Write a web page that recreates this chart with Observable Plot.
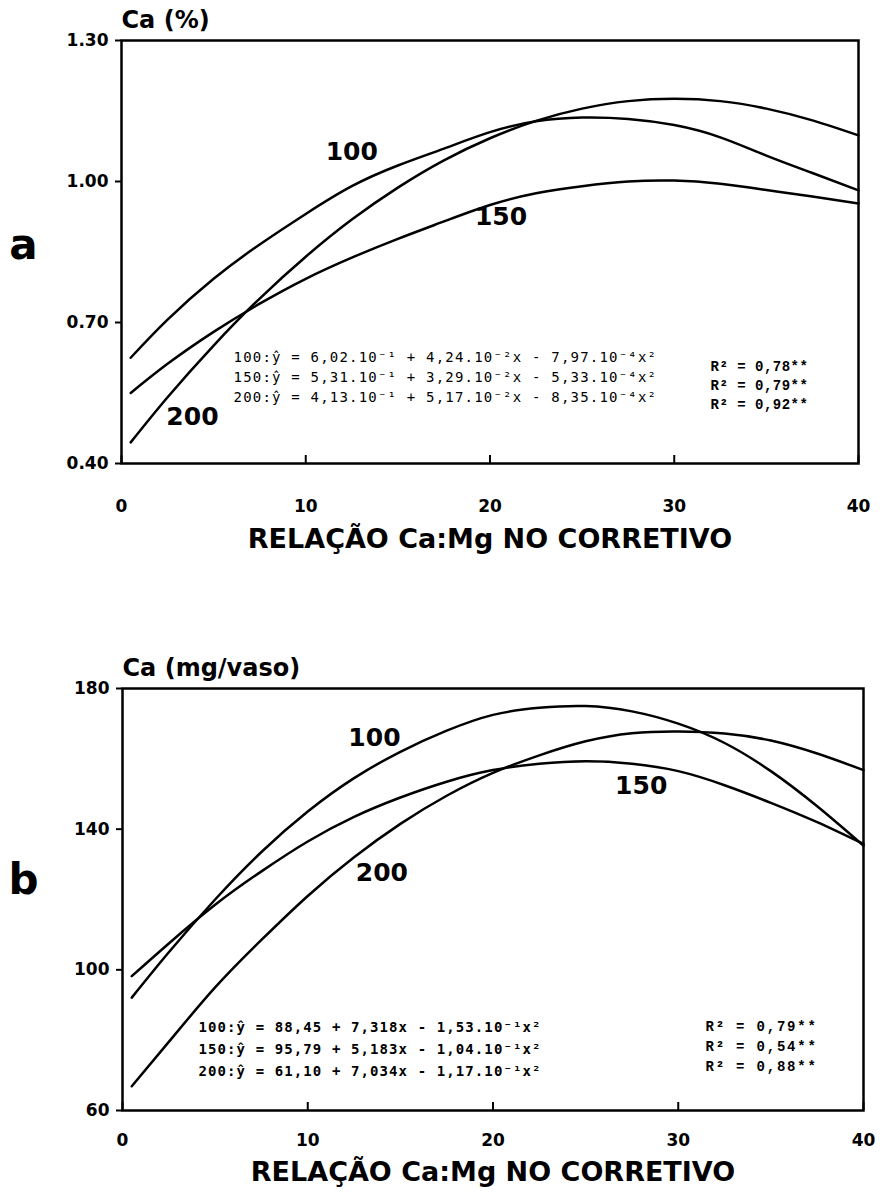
<!DOCTYPE html>
<html><head><meta charset="utf-8">
<script src="https://cdn.jsdelivr.net/npm/d3@7"></script>
<script src="https://cdn.jsdelivr.net/npm/@observablehq/plot@0.6"></script>
<style>
body{margin:0;background:#fff;}
#chart svg{display:block;}
</style></head><body><div id="chart"></div>
<script>
// ---- data ----
const xs = [0.5, 2.5, 5, 7.5, 10, 12.5, 15, 17.5, 20, 22.5, 25, 27.5, 30, 32.5, 35, 37.5, 40];
const seriesNames = ["100", "150", "200"];
const xTicks = [0, 10, 20, 30, 40];
const xTitle = "RELAÇÃO Ca:Mg NO CORRETIVO";

// panel a: Ca (%)
const a100 = [0.625, 0.706, 0.793, 0.866, 0.931, 0.990, 1.034, 1.070, 1.105, 1.128, 1.136, 1.133, 1.120, 1.094, 1.055, 1.018, 0.981];
const a150 = [0.550, 0.612, 0.680, 0.740, 0.793, 0.838, 0.878, 0.915, 0.950, 0.975, 0.990, 1.000, 1.002, 0.995, 0.982, 0.968, 0.953];
const a200 = [0.445, 0.541, 0.651, 0.751, 0.840, 0.919, 0.987, 1.045, 1.092, 1.129, 1.155, 1.171, 1.176, 1.171, 1.155, 1.130, 1.098];
const aYTicks = [0.40, 0.70, 1.00, 1.30];
const aTitle = "Ca (%)";
const aEq = [
  "100:ŷ = 6,02.10⁻¹ + 4,24.10⁻²x - 7,97.10⁻⁴x²",
  "150:ŷ = 5,31.10⁻¹ + 3,29.10⁻²x - 5,33.10⁻⁴x²",
  "200:ŷ = 4,13.10⁻¹ + 5,17.10⁻²x - 8,35.10⁻⁴x²"
];
const aR2 = ["R² = 0,78**", "R² = 0,79**", "R² = 0,92**"];

// panel b: Ca (mg/vaso)
const b100 = [92.1, 105.0, 120.0, 133.5, 145.0, 154.5, 162.0, 168.0, 172.5, 174.5, 175.0, 173.5, 170.0, 164.5, 156.5, 146.5, 135.3];
const b150 = [98.2, 107.5, 118.5, 128.0, 136.5, 143.5, 149.0, 153.5, 156.8, 158.6, 159.3, 158.6, 156.5, 152.5, 147.5, 142.0, 135.8];
const b200 = [66.9, 79.5, 95.0, 108.5, 121.0, 132.0, 141.5, 149.5, 156.0, 161.0, 165.0, 167.3, 167.8, 167.2, 165.2, 161.5, 156.8];
const bYTicks = [60, 100, 140, 180];
const bTitle = "Ca (mg/vaso)";
const bEq = [
  "100:ŷ = 88,45 + 7,318x - 1,53.10⁻¹x²",
  "150:ŷ = 95,79 + 5,183x - 1,04.10⁻¹x²",
  "200:ŷ = 61,10 + 7,034x - 1,17.10⁻¹x²"
];
const bR2 = ["R² = 0,79**", "R² = 0,54**", "R² = 0,88**"];

function panel(o) {
  const rows = [];
  o.series.forEach((vals, k) => vals.forEach((v, i) => rows.push({x: xs[i], y: v, s: seriesNames[k]})));
  const bold = {fontWeight: "bold", fill: "#000"};
  const svg = Plot.plot({
    width: 880, height: o.height,
    marginLeft: o.ml, marginRight: o.mr, marginTop: o.mt, marginBottom: o.mb,
    style: {fontFamily: "DejaVu Sans", background: "#fff", color: "#000", overflow: "visible"},
    x: {domain: [0, 40]},
    y: {domain: o.ydomain},
    marks: [
      Plot.frame({stroke: "#000", strokeWidth: 2.5}),
      Plot.axisY({ticks: o.yticks, tickFormat: o.yfmt, tickSize: 6, tickPadding: 7, fontSize: 17, fontWeight: "bold", label: null, strokeWidth: 2}),
      // inward tick marks on the x axis
      Plot.axisX({ticks: xTicks, tickSize: 8, dy: -8, tickFormat: () => "", label: null, strokeWidth: 2}),
      // x tick labels
      Plot.axisX({ticks: xTicks, tickFormat: d3.format("d"), tickSize: 0, tickPadding: o.xpad - 8, fontSize: 17, fontWeight: "bold", label: null}),
      Plot.line(rows, {x: "x", y: "y", z: "s", curve: "natural", stroke: "#000", strokeWidth: 2.5}),
      Plot.text(seriesNames, {text: d => d, x: (d, i) => o.lab[i][0], y: (d, i) => o.lab[i][1], fontSize: 25, ...bold}),
      Plot.text([xTitle], {text: d => d, frameAnchor: "bottom", lineAnchor: "middle", dy: o.titleDy, fontSize: 27, ...bold}),
      Plot.text([o.title], {text: d => d, frameAnchor: "top-left", textAnchor: "start", lineAnchor: "middle", dy: -20, fontSize: 24, ...bold}),
      Plot.text([o.letter], {text: d => d, frameAnchor: "left", textAnchor: "middle", lineAnchor: "middle", dx: o.letterDx, dy: o.letterDy, fontSize: 42, ...bold}),
      Plot.text([o.eq.join("\n")], {text: d => d, frameAnchor: "bottom-left", textAnchor: "start", lineAnchor: "middle", dx: o.eqDx, dy: o.eqDy,
        lineHeight: o.eqLH, fontSize: 14, fontFamily: "DejaVu Sans Mono", fontWeight: o.eqWeight, fill: "#000"}),
      Plot.text([o.r2.join("\n")], {text: d => d, frameAnchor: "bottom-left", textAnchor: "start", lineAnchor: "middle", dx: o.r2Dx, dy: o.r2Dy,
        lineHeight: o.r2LH, fontSize: 14, fontFamily: "Liberation Mono", fontWeight: "bold", fill: "#000"})
    ]
  });
  svg.querySelectorAll('g[font-family="DejaVu Sans Mono"]').forEach(g => g.style.letterSpacing = o.eqLS + "px");
  svg.querySelectorAll('g[font-family="Liberation Mono"]').forEach(g => g.style.letterSpacing = o.r2LS + "px");
  return svg;
}

const chart = document.getElementById("chart");
chart.append(panel({
  series: [a100, a150, a200], height: 600, ml: 121, mr: 22, mt: 40, mb: 137,
  ydomain: [0.4, 1.3], yticks: aYTicks, yfmt: d3.format(".2f"), xpad: 44, titleDy: 76,
  lab: [[12.5, 1.062], [20.6, 0.925], [3.85, 0.50]],
  title: aTitle, letter: "a", letterDx: -98, letterDy: -6,
  eq: aEq, eqDx: 112, eqDy: -88, eqLH: 1.43, eqWeight: "normal", eqLS: 1.2,
  r2: aR2, r2Dx: 589, r2Dy: -80, r2LH: 1.36, r2LS: 0.5
}));
chart.append(panel({
  series: [b100, b150, b200], height: 594, ml: 122, mr: 17, mt: 88, mb: 84,
  ydomain: [60, 180], yticks: bYTicks, yfmt: d3.format("d"), xpad: 31, titleDy: 62,
  lab: [[13.6, 165.8], [28.0, 152.4], [14.0, 127.5]],
  title: bTitle, letter: "b", letterDx: -99, letterDy: -19,
  eq: bEq, eqDx: 76, eqDy: -64, eqLH: 1.57, eqWeight: "bold", eqLS: 1.1,
  r2: bR2, r2Dx: 583, r2Dy: -66, r2LH: 1.46, r2LS: 1.8
}));
</script></body></html>
